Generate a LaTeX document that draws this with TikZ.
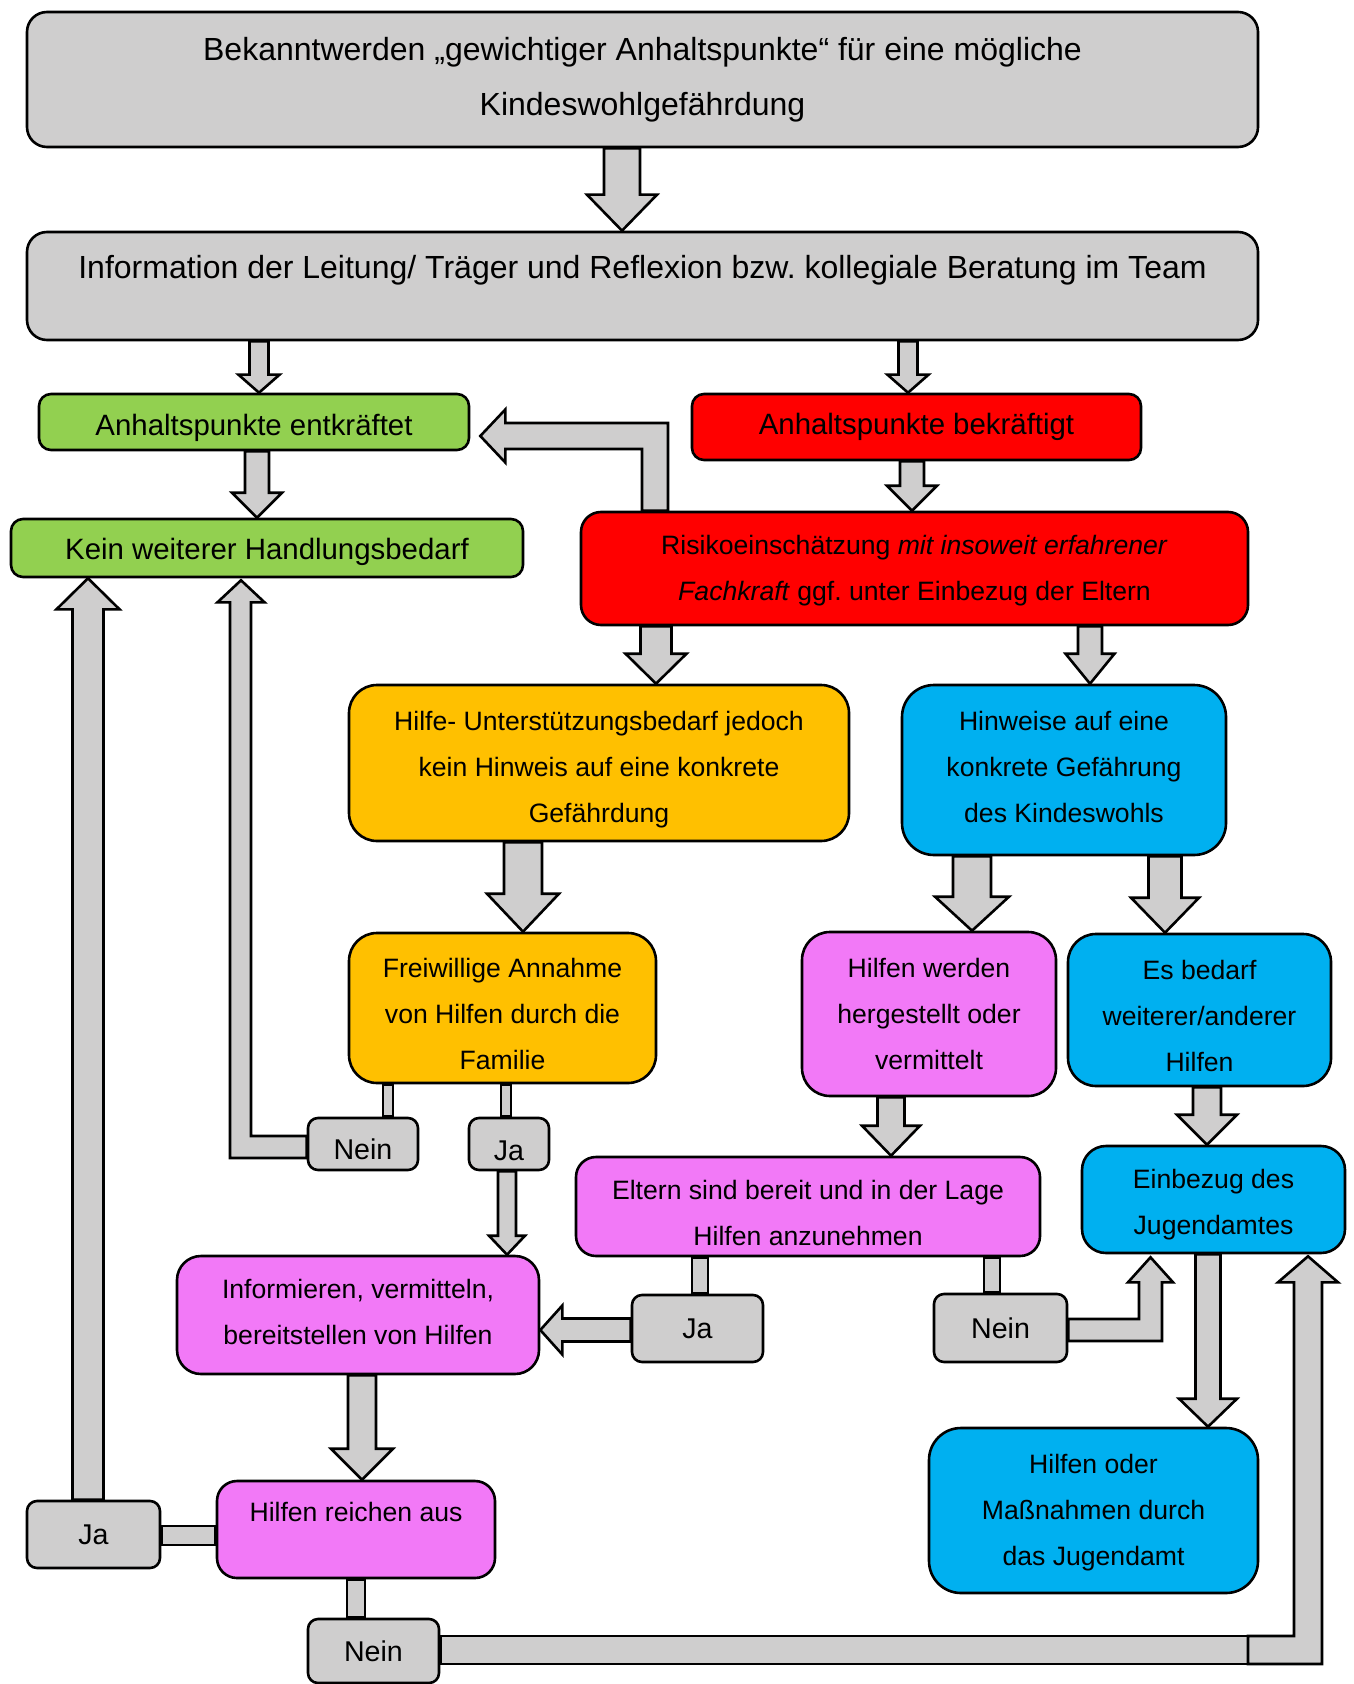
\documentclass[tikz,border=0pt]{standalone}
\usepackage{fontspec}
\setmainfont{Liberation Sans}
\frenchspacing
\usetikzlibrary{calc}
\pgfdeclarelayer{background}
\pgfsetlayers{background,main}
\definecolor{cgray}{RGB}{207,206,206}
\definecolor{cgreen}{RGB}{146,208,80}
\definecolor{cred}{RGB}{255,0,0}
\definecolor{cyellow}{RGB}{255,192,0}
\definecolor{cblue}{RGB}{0,176,240}
\definecolor{cpink}{RGB}{242,121,247}
% text with fixed struts: #1 = (strut height - strut depth) in pt
\newcommand\tx[2]{\rule{0pt}{\dimexpr #1pt+3.5pt\relax}#2\rule[-3.5pt]{0pt}{3.5pt}}
% vertical block arrows: x, from, to, shaft half, head half, head length (all in px; 1px = 0.5pt)
\newcommand\ArrPrep[4]{%
 \pgfmathsetmacro\aL{(#1-#2)*0.5}\pgfmathsetmacro\aR{(#1+#2)*0.5}%
 \pgfmathsetmacro\hL{(#1-#3)*0.5}\pgfmathsetmacro\hR{(#1+#3)*0.5}%
 \pgfmathsetmacro\aC{#1*0.5}\pgfmathsetmacro\hH{#4*0.5}}
\newcommand\ArrDown[6]{\ArrPrep{#1}{#4}{#5}{#6}%
 \draw[barrow] let \p1=(#2), \p2=(#3) in
 (\aL pt,\y1) -- (\aL pt,{\y2+\hH pt}) -- (\hL pt,{\y2+\hH pt}) -- (\aC pt,\y2)
 -- (\hR pt,{\y2+\hH pt}) -- (\aR pt,{\y2+\hH pt}) -- (\aR pt,\y1) -- cycle;}
\newcommand\ArrUp[6]{\ArrPrep{#1}{#4}{#5}{#6}%
 \draw[barrow] let \p1=(#2), \p2=(#3) in
 (\aL pt,\y1) -- (\aL pt,{\y2-\hH pt}) -- (\hL pt,{\y2-\hH pt}) -- (\aC pt,\y2)
 -- (\hR pt,{\y2-\hH pt}) -- (\aR pt,{\y2-\hH pt}) -- (\aR pt,\y1) -- cycle;}
% horizontal left block arrow: y, from, to, shaft half, head half, head length
\newcommand\ArrLeft[6]{\ArrPrep{-#1}{#4}{#5}{#6}%
 \draw[barrow] let \p1=(#2), \p2=(#3) in
 (\x1,\aL pt) -- ({\x2+\hH pt},\aL pt) -- ({\x2+\hH pt},\hL pt) -- (\x2,\aC pt)
 -- ({\x2+\hH pt},\hR pt) -- ({\x2+\hH pt},\aR pt) -- (\x1,\aR pt) -- cycle;}
\begin{document}
\begin{tikzpicture}[x=0.5pt,y=-0.5pt,
  box/.style={draw=black, line width=1.3pt, inner sep=0pt, align=center, text=black},
  big/.style={font=\fontsize{16}{27.5}\selectfont},
  mid/.style={font=\fontsize{14.7}{24}\selectfont},
  small/.style={font=\fontsize{13.3}{23}\selectfont},
  lab/.style={box, fill=cgray, rounded corners=5pt, font=\fontsize{14.3}{20}\selectfont},
  barrow/.style={draw=black, fill=cgray, line width=1.3pt, line join=miter}]
\useasboundingbox (0,0) rectangle (1353,1684);

% boxes
\node[box, big, fill=cgray, rounded corners=10pt, minimum width=615.5pt, minimum height=67.5pt] (b1) at (642.5,79.5)
  {Bekanntwerden „gewichtiger Anhaltspunkte“ für eine mögliche\\Kindeswohlgefährdung};
\node[box, big, fill=cgray, rounded corners=10pt, minimum width=615.5pt, minimum height=54pt] (b2) at (642.5,286)
  {\raisebox{19pt}{Information der Leitung/ Träger und Reflexion bzw. kollegiale Beratung im Team}};
\node[box, mid, fill=cgreen, rounded corners=6pt, minimum width=215pt, minimum height=28pt] (g1) at (254,422)
  {\tx{14}{Anhaltspunkte entkräftet}};
\node[box, mid, fill=cred, rounded corners=6pt, minimum width=224.5pt, minimum height=33pt] (r1) at (916.5,427)
  {Anhaltspunkte bekräftigt};
\node[box, mid, fill=cgreen, rounded corners=6pt, minimum width=256pt, minimum height=29pt] (g2) at (267,548)
  {\tx{11.9}{Kein weiterer Handlungsbedarf}};
\node[box, small, fill=cred, rounded corners=10pt, minimum width=333.5pt, minimum height=56.5pt] (r2) at (914.5,568.5)
  {\tx{9.1}{Risikoeinschätzung \textit{mit insoweit erfahrener}\\\textit{Fachkraft} ggf. unter Einbezug der Eltern}};
\node[box, small, fill=cyellow, rounded corners=14pt, minimum width=250pt, minimum height=78pt] (y1) at (599,763)
  {\tx{13.3}{Hilfe- Unterstützungsbedarf jedoch\\kein Hinweis auf eine konkrete\\Gefährdung}};
\node[box, small, fill=cblue, rounded corners=16pt, minimum width=162pt, minimum height=85pt] (bl1) at (1064,770)
  {\tx{6.5}{Hinweise auf eine\\konkrete Gefährung\\des Kindeswohls}};
\node[box, small, fill=cyellow, rounded corners=14pt, minimum width=153.5pt, minimum height=75pt] (y2) at (502.5,1008)
  {\tx{15.1}{Freiwillige Annahme\\von Hilfen durch die\\Familie}};
\node[box, small, fill=cpink, rounded corners=14pt, minimum width=127pt, minimum height=82pt] (p1) at (929,1014)
  {Hilfen werden\\hergestellt oder\\vermittelt};
\node[box, small, fill=cblue, rounded corners=14pt, minimum width=131.5pt, minimum height=76pt] (bl2) at (1199.5,1010)
  {\tx{15.1}{Es bedarf\\weiterer/anderer\\Hilfen}};
\node[lab, minimum width=55pt, minimum height=26pt] (n1) at (363,1144) {\tx{15.6}{Nein}};
\node[lab, minimum width=40pt, minimum height=26pt] (j1) at (509,1144) {\tx{16.6}{Ja}};
\node[box, small, fill=cpink, rounded corners=10pt, minimum width=232pt, minimum height=49.5pt] (p2) at (808,1206.5)
  {\tx{16.1}{Eltern sind bereit und in der Lage\\Hilfen anzunehmen}};
\node[box, small, fill=cblue, rounded corners=12pt, minimum width=131.5pt, minimum height=53.5pt] (bl3) at (1213.5,1199.5)
  {\tx{12.3}{Einbezug des\\Jugendamtes}};
\node[box, small, fill=cpink, rounded corners=12pt, minimum width=181pt, minimum height=59pt] (p3) at (358,1315)
  {\tx{6.5}{Informieren, vermitteln,\\bereitstellen von Hilfen}};
\node[lab, minimum width=65.5pt, minimum height=33.5pt] (j2) at (697.5,1328.5) {Ja};
\node[lab, minimum width=66.5pt, minimum height=34pt] (n2) at (1000.5,1328) {Nein};
\node[box, small, fill=cblue, rounded corners=16pt, minimum width=164.5pt, minimum height=82.5pt] (bl4) at (1093.5,1510.5)
  {\tx{9.1}{Hilfen oder\\Maßnahmen durch\\das Jugendamt}};
\node[box, small, fill=cpink, rounded corners=10pt, minimum width=139pt, minimum height=48.5pt] (p4) at (356,1529.5)
  {\raisebox{18pt}{Hilfen reichen aus}};
\node[lab, minimum width=66.5pt, minimum height=33.5pt] (j3) at (93.5,1534.5) {Ja};
\node[lab, minimum width=65.5pt, minimum height=32pt] (n3) at (373.5,1651) {Nein};

\begin{pgfonlayer}{background}
\fill[white] (0,0) rectangle (1353,1684);
% straight arrows
\ArrDown{622}{b1.south}{b2.north}{18}{35}{36}
\ArrDown{259}{b2.south}{g1.north}{9.5}{20.5}{18}
\ArrDown{908}{b2.south}{r1.north}{9.5}{20.5}{18}
\ArrDown{257}{g1.south}{g2.north}{12}{25}{25}
\ArrDown{912}{r1.south}{r2.north}{12}{25}{25}
\ArrDown{656}{r2.south}{y1.north}{15.5}{30.5}{30}
\ArrDown{1090}{r2.south}{bl1.north}{12}{24.5}{30}
\ArrDown{523}{y1.south}{y2.north}{19}{36}{38}
\ArrDown{972}{bl1.south}{p1.north}{19}{37}{34}
\ArrDown{1165}{bl1.south}{bl2.north}{16.5}{34}{35}
\ArrDown{891}{p1.south}{p2.north}{13.5}{29}{30}
\ArrDown{1207}{bl2.south}{bl3.north}{14}{30}{30}
\ArrDown{507}{j1.south}{p3.north}{9}{18}{19}
\ArrDown{362}{p3.south}{p4.north}{14}{31}{31}
\ArrDown{1208}{bl3.south}{bl4.north}{12.5}{29}{28}
\ArrUp{88}{j3.north}{g2.south}{15.5}{31.5}{31}
\ArrLeft{1330}{j2.west}{p3.east}{11.5}{24.5}{22}
% elbow: Risikoeinschaetzung -> entkraeftet
\draw[barrow] let \p1=(r2.north), \p2=(g1.east) in
  (321pt,\y1) -- (321pt,-224.5pt) -- ({\x2+17.5pt},-224.5pt) -- ({\x2+17.5pt},-231.25pt)
  -- ({\x2+5pt},-218pt) -- ({\x2+17.5pt},-204.75pt) -- ({\x2+17.5pt},-211.5pt)
  -- (334pt,-211.5pt) -- (334pt,\y1) -- cycle;
% elbow: Nein -> Kein weiterer Handlungsbedarf
\draw[barrow] let \p1=(n1.west), \p2=(g2.south) in
  (\x1,-568pt) -- (125.5pt,-568pt) -- (125.5pt,{\y2-12pt}) -- (132.25pt,{\y2-12pt})
  -- (120.5pt,{\y2-1pt}) -- (108.75pt,{\y2-12pt}) -- (115pt,{\y2-12pt})
  -- (115pt,-579pt) -- (\x1,-579pt) -- cycle;
% elbow: Nein -> Einbezug des Jugendamtes
\draw[barrow] let \p1=(n2.east), \p2=(bl3.south) in
  (\x1,-670.5pt) -- (581pt,-670.5pt) -- (581pt,{\y2-14pt}) -- (586.5pt,{\y2-14pt})
  -- (575.25pt,{\y2-1.5pt}) -- (564pt,{\y2-14pt}) -- (569.5pt,{\y2-14pt})
  -- (569.5pt,-659.5pt) -- (\x1,-659.5pt) -- cycle;
% bottom Nein -> Einbezug des Jugendamtes
\draw[barrow] let \p1=(n3.east) in (\x1,-818pt) rectangle (624pt,-832pt);
\draw[barrow] let \p2=(bl3.south) in
  (624pt,-832pt) -- (624pt,-818pt) -- (647pt,-818pt) -- (647pt,{\y2-14pt})
  -- (639pt,{\y2-14pt}) -- (654pt,{\y2-1pt}) -- (669pt,{\y2-14pt})
  -- (661pt,{\y2-14pt}) -- (661pt,-832pt) -- cycle;
% stubs
\draw[barrow] let \p1=(y2.south), \p2=(n1.north) in (191.5pt,\y1) rectangle (196.5pt,\y2);
\draw[barrow] let \p1=(y2.south), \p2=(j1.north) in (250.5pt,\y1) rectangle (255.5pt,\y2);
\draw[barrow] let \p1=(p2.south), \p2=(j2.north) in (346pt,\y1) rectangle (354pt,\y2);
\draw[barrow] let \p1=(p2.south), \p2=(n2.north) in (492pt,\y1) rectangle (500pt,\y2);
\draw[barrow] let \p1=(p4.south), \p2=(n3.north) in (173.5pt,\y1) rectangle (182.5pt,\y2);
\draw[barrow] let \p1=(j3.east), \p2=(p4.west) in (\x1,-763pt) rectangle (\x2,-772.5pt);
\end{pgfonlayer}
\end{tikzpicture}
\end{document}
